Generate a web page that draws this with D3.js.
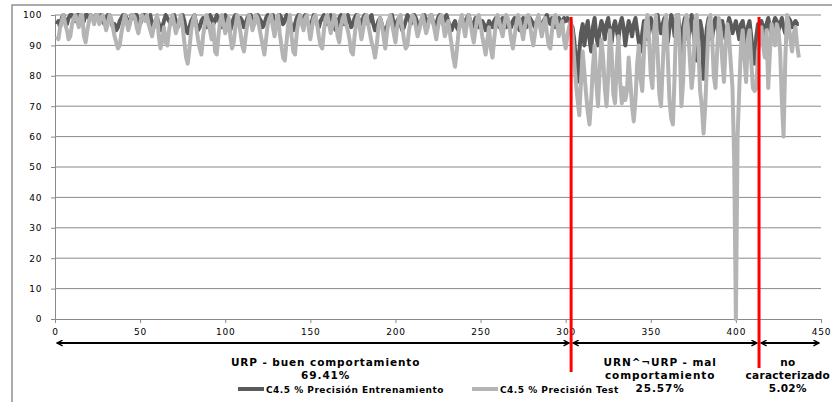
<!DOCTYPE html>
<html>
<head>
<meta charset="utf-8">
<script src="https://cdn.jsdelivr.net/npm/d3@7"></script>
<style>
  body { margin: 0; background: #fff; }
  svg { display: block; }
  text { font-family: "DejaVu Sans", Verdana, sans-serif; }
</style>
</head>
<body>
<div id="chart"></div>
<script>
// ===== C4.5 precision per sample, with URP / URN regions =====

const yTicks = [0, 10, 20, 30, 40, 50, 60, 70, 80, 90, 100];
const xTicks = [0, 50, 100, 150, 200, 250, 300, 350, 400, 450];

// Precision Entrenamiento (dark series), sample 1..437
const trainValues = [
  97,98,96,99,100,98,97,99,100,100,99,98,100,100,99,97,98,100,100,99,
  100,99,98,100,100,99,100,98,97,99,100,100,98,96,97,95,96,98,99,100,
  100,99,97,98,100,99,100,100,98,97,99,100,100,99,98,100,97,96,98,99,
  97,95,96,98,100,99,98,97,99,100,98,96,97,99,100,98,95,94,96,98,
  99,100,97,95,96,98,99,97,96,98,100,99,97,98,100,99,97,96,98,100,
  98,96,95,97,99,100,98,97,99,98,96,97,99,100,100,98,97,99,100,99,
  98,96,97,99,100,98,99,100,97,96,98,100,99,97,98,100,99,98,96,95,
  97,99,100,98,97,99,100,98,97,96,98,100,99,97,96,98,99,100,98,97,
  99,100,98,96,95,97,99,100,99,97,98,100,98,96,97,99,100,99,98,97,
  99,100,98,97,99,100,97,95,96,98,99,97,95,94,96,98,99,100,97,96,
  98,99,97,95,96,98,100,99,97,98,100,99,97,96,98,99,100,98,97,99,
  100,98,96,97,99,100,98,97,99,100,98,96,95,97,98,96,95,97,99,98,
  97,99,100,98,96,97,99,98,96,97,98,97,95,96,98,97,96,98,99,97,
  96,98,99,97,96,98,97,96,98,99,97,96,95,97,99,98,96,97,99,98,
  97,96,98,99,97,96,98,99,100,98,97,99,98,96,97,99,98,97,99,98,
  99,98,97,
  96,92,85,78,88,94,97,90,95,98,92,88,96,99,93,90,95,
  98,96,92,97,99,94,91,96,98,95,92,97,99,96,90,94,98,96,93,97,
  99,95,91,88,94,98,96,92,95,99,97,93,98,100,96,94,97,99,95,91,
  96,100,98,93,97,100,94,88,96,99,97,92,95,100,96,90,85,94,98,95,
  79,90,96,99,95,92,97,99,96,93,97,98,95,92,96,99,97,94,96,98,
  95,92,97,98,94,90,96,98,93,88,84,93,97,
  95,98,96,94,97,99,96,93,97,99,98,95,97,99,96,94,97,99,98,96,97,98,97,97
];

// Precision Test (light series), sample 1..437
const testValues = [
  93,92,96,98,100,97,95,92,93,97,99,100,98,96,100,100,93,91,95,98,
  100,99,97,100,100,97,99,100,98,95,97,100,99,96,93,91,89,90,94,97,
  100,98,95,97,100,100,99,96,94,97,100,99,98,100,97,95,93,96,98,100,
  93,89,92,96,91,90,95,98,100,97,94,96,98,100,96,91,86,84,89,95,
  98,100,96,92,89,87,93,97,100,98,95,92,97,88,87,93,98,100,97,94,
  96,99,93,89,91,96,100,98,94,90,88,93,97,100,98,95,97,100,99,96,
  93,90,87,92,97,99,100,96,93,98,100,94,90,86,85,91,97,100,93,88,
  87,94,98,100,97,95,99,100,96,92,96,99,100,97,93,90,89,95,99,100,
  97,94,97,100,98,93,91,96,99,100,97,95,92,88,87,93,98,100,96,92,
  95,99,100,97,94,91,89,86,90,96,99,97,93,89,94,98,100,97,94,91,
  96,99,100,96,92,89,90,95,98,100,99,96,93,95,98,100,97,94,96,99,
  100,98,95,92,96,99,100,97,93,95,98,94,90,86,83,88,94,98,100,96,
  93,97,100,98,94,91,95,99,100,97,93,90,87,92,96,89,86,92,97,100,
  98,95,93,97,100,99,96,92,89,93,97,100,98,95,92,96,99,100,97,93,
  90,94,98,100,96,93,97,99,94,90,89,95,99,100,97,93,96,98,92,89,
  93,96,98,
  94,85,78,72,67,78,88,81,74,68,64,72,83,90,78,70,82,
  92,86,76,70,80,95,88,74,71,84,93,78,71,76,72,75,86,78,70,65,
  72,84,90,79,75,88,97,100,92,80,76,95,100,88,74,70,83,96,100,86,
  72,66,64,80,100,100,90,70,78,96,100,95,85,76,82,98,100,89,75,70,
  61,70,84,97,100,93,80,76,88,99,95,85,78,90,97,93,84,76,52,0,
  60,76,90,95,86,78,92,95,85,76,75,76,88,
  92,96,90,86,95,76,88,97,93,90,97,95,88,72,60,85,100,97,92,88,94,96,90,86
];

// region boundaries (sample index) and their labels
const regionBounds = [0, 303.2, 413.6, 450];
const regionLabels = [
  ["URP - buen comportamiento", "69.41%"],
  ["URN^\u00acURP - mal", "comportamiento", "25.57%"],
  ["no", "caracterizado", "5.02%"]
];
const regionLabelX = [159, 355.5, 430.5];
const regionLabelSpacing = [0.9, 0.9, 0.3];

const seriesNames = ["C4.5 % Precisión Entrenamiento", "C4.5 % Precisión Test"];
const seriesColors = ["#5a5a5a", "#b4b4b4"];

const width = 832, height = 402;
const margin = { top: 15, left: 55, right: 11, bottom: 83 };

const svg = d3.select("#chart").append("svg")
  .attr("width", width)
  .attr("height", height);

const x = d3.scaleLinear().domain([0, 450]).range([margin.left, width - margin.right]);
const y = d3.scaleLinear().domain([0, 100]).range([height - margin.bottom, margin.top]);

// outer chart frame (only top & left visible)
svg.append("path")
  .attr("d", `M12,${height} L12,5 L${width},5`)
  .attr("fill", "none")
  .attr("stroke", "#909090")
  .attr("stroke-width", 1.5);

const defs = svg.append("defs");
defs.append("marker")
  .attr("id", "arrowhead")
  .attr("viewBox", "0 0 10 10")
  .attr("refX", 9).attr("refY", 5)
  .attr("markerWidth", 7).attr("markerHeight", 7)
  .attr("markerUnits", "userSpaceOnUse")
  .attr("orient", "auto-start-reverse")
  .append("path")
  .attr("d", "M1,1 L9,5 L1,9")
  .attr("fill", "none")
  .attr("stroke", "#000")
  .attr("stroke-width", 2);

// gridlines
svg.append("g")
  .selectAll("line")
  .data(yTicks.filter(d => d > 0))
  .join("line")
  .attr("x1", x(0)).attr("x2", x(450))
  .attr("y1", d => y(d)).attr("y2", d => y(d))
  .attr("stroke", "#8a8a8a")
  .attr("stroke-width", 1);

// y axis
const yAxis = svg.append("g")
  .attr("transform", `translate(${x(0)},0)`)
  .call(d3.axisLeft(y).tickValues(yTicks).tickSize(4).tickPadding(9));
yAxis.select(".domain").attr("stroke", "#8a8a8a");
yAxis.selectAll(".tick line").attr("stroke", "#8a8a8a");
yAxis.selectAll("text")
  .attr("font-size", 9)
  .attr("letter-spacing", 0.6)
  .attr("fill", "#000");

// x axis
const xAxis = svg.append("g")
  .attr("transform", `translate(0,${y(0)})`)
  .call(d3.axisBottom(x).tickValues(xTicks).tickSize(4).tickPadding(6));
xAxis.select(".domain").attr("stroke", "#8a8a8a");
xAxis.selectAll(".tick line").attr("stroke", "#8a8a8a");
xAxis.selectAll("text")
  .attr("font-size", 9)
  .attr("letter-spacing", 0.8)
  .attr("fill", "#000");

// series lines
const line = d3.line()
  .x((d, i) => x(i + 1))
  .y(d => y(d));

[trainValues, testValues].forEach((vals, k) => {
  svg.append("path")
    .datum(vals)
    .attr("d", line)
    .attr("fill", "none")
    .attr("stroke", seriesColors[k])
    .attr("stroke-width", 4)
    .attr("stroke-linejoin", "round");
});

// region arrows
const arrowY = 343;
for (let i = 0; i < regionBounds.length - 1; i++) {
  svg.append("line")
    .attr("x1", x(regionBounds[i]) + 2)
    .attr("x2", x(regionBounds[i + 1]) - 2)
    .attr("y1", arrowY).attr("y2", arrowY)
    .attr("stroke", "#000")
    .attr("stroke-width", 2)
    .attr("marker-start", "url(#arrowhead)")
    .attr("marker-end", "url(#arrowhead)");
}

// red separators
[[regionBounds[1], 372], [regionBounds[2], 368]].forEach(([b, yEnd]) => {
  svg.append("line")
    .attr("x1", x(b)).attr("x2", x(b))
    .attr("y1", 17).attr("y2", yEnd)
    .attr("stroke", "#ff0000")
    .attr("stroke-width", 3);
});

// region labels
regionLabels.forEach((lines, i) => {
  const t = svg.append("text")
    .attr("x", x(regionLabelX[i]))
    .attr("y", 366)
    .attr("text-anchor", "middle")
    .attr("font-size", 10.5)
    .attr("font-weight", "bold")
    .attr("letter-spacing", regionLabelSpacing[i])
    .attr("fill", "#000");
  lines.forEach((s, j) => {
    t.append("tspan")
      .attr("x", x(regionLabelX[i]))
      .attr("dy", j === 0 ? 0 : 13)
      .text(s);
  });
});

// legend
const legendItems = [
  { name: seriesNames[0], color: seriesColors[0], x0: 238 },
  { name: seriesNames[1], color: seriesColors[1], x0: 472 }
];
legendItems.forEach(d => {
  svg.append("line")
    .attr("x1", d.x0).attr("x2", d.x0 + 26)
    .attr("y1", 389).attr("y2", 389)
    .attr("stroke", d.color)
    .attr("stroke-width", 4);
  svg.append("text")
    .attr("x", d.x0 + 28)
    .attr("y", 392.5)
    .attr("font-size", 9)
    .attr("font-weight", "bold")
    .attr("letter-spacing", 0.5)
    .attr("fill", "#000")
    .text(d.name);
});
</script>
</body>
</html>
